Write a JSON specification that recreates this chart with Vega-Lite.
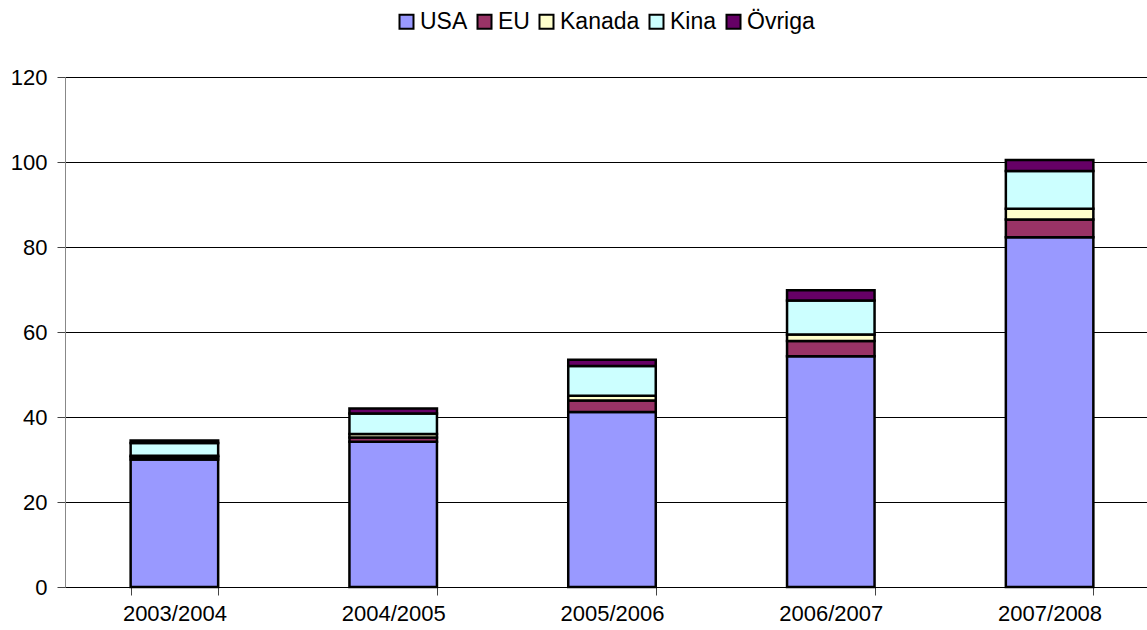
{
  "$schema": "https://vega.github.io/schema/vega-lite/v6.json",
  "autosize": "none",
  "width": 1094,
  "height": 510,
  "padding": {"left": 65, "top": 77, "right": 0, "bottom": 43},
  "background": "white",
  "config": {
    "font": "Liberation Sans",
    "view": {"stroke": null}
  },
  "data": {
    "values": [
      {"ar": "2003/2004", "land": "USA", "ord": 1, "v": 30.0},
      {"ar": "2003/2004", "land": "EU", "ord": 2, "v": 0.6},
      {"ar": "2003/2004", "land": "Kanada", "ord": 3, "v": 0.3},
      {"ar": "2003/2004", "land": "Kina", "ord": 4, "v": 3.0},
      {"ar": "2003/2004", "land": "Övriga", "ord": 5, "v": 0.6},
      {"ar": "2004/2005", "land": "USA", "ord": 1, "v": 34.2},
      {"ar": "2004/2005", "land": "EU", "ord": 2, "v": 1.0},
      {"ar": "2004/2005", "land": "Kanada", "ord": 3, "v": 0.8},
      {"ar": "2004/2005", "land": "Kina", "ord": 4, "v": 4.8},
      {"ar": "2004/2005", "land": "Övriga", "ord": 5, "v": 1.2},
      {"ar": "2005/2006", "land": "USA", "ord": 1, "v": 41.2},
      {"ar": "2005/2006", "land": "EU", "ord": 2, "v": 2.7},
      {"ar": "2005/2006", "land": "Kanada", "ord": 3, "v": 1.1},
      {"ar": "2005/2006", "land": "Kina", "ord": 4, "v": 7.0},
      {"ar": "2005/2006", "land": "Övriga", "ord": 5, "v": 1.5},
      {"ar": "2006/2007", "land": "USA", "ord": 1, "v": 54.3},
      {"ar": "2006/2007", "land": "EU", "ord": 2, "v": 3.6},
      {"ar": "2006/2007", "land": "Kanada", "ord": 3, "v": 1.5},
      {"ar": "2006/2007", "land": "Kina", "ord": 4, "v": 8.0},
      {"ar": "2006/2007", "land": "Övriga", "ord": 5, "v": 2.4},
      {"ar": "2007/2008", "land": "USA", "ord": 1, "v": 82.3},
      {"ar": "2007/2008", "land": "EU", "ord": 2, "v": 4.2},
      {"ar": "2007/2008", "land": "Kanada", "ord": 3, "v": 2.5},
      {"ar": "2007/2008", "land": "Kina", "ord": 4, "v": 8.9},
      {"ar": "2007/2008", "land": "Övriga", "ord": 5, "v": 2.6}
    ]
  },
  "mark": {"type": "bar", "stroke": "black", "strokeWidth": 2.5},
  "encoding": {
    "x": {
      "field": "ar",
      "type": "nominal",
      "title": null,
      "scale": {"paddingInner": 0.6, "paddingOuter": 0.3},
      "axis": {
        "labelAngle": 0,
        "labelFontSize": 22,
        "labelColor": "black",
        "labelPadding": 8,
        "domainColor": "black",
        "domainWidth": 1,
        "tickColor": "#444",
        "tickSize": 8,
        "tickBand": "extent",
        "grid": false
      }
    },
    "y": {
      "field": "v",
      "type": "quantitative",
      "stack": "zero",
      "title": null,
      "scale": {"domain": [0, 120], "nice": false},
      "axis": {
        "values": [0, 20, 40, 60, 80, 100, 120],
        "labelFontSize": 22,
        "labelColor": "black",
        "labelPadding": 10,
        "domainColor": "#888",
        "domainWidth": 1,
        "tickColor": "#444",
        "tickSize": 8,
        "grid": true,
        "gridColor": "black",
        "gridOpacity": 1,
        "gridWidth": 1
      }
    },
    "color": {
      "field": "land",
      "type": "nominal",
      "sort": ["USA", "EU", "Kanada", "Kina", "Övriga"],
      "scale": {
        "domain": ["USA", "EU", "Kanada", "Kina", "Övriga"],
        "range": ["#9999FF", "#993366", "#FFFFCC", "#CCFFFF", "#660066"]
      },
      "legend": {
        "title": null,
        "orient": "none",
        "legendX": 330,
        "legendY": -67,
        "direction": "horizontal",
        "labelFontSize": 23,
        "labelColor": "black",
        "symbolType": "square",
        "symbolSize": 196,
        "symbolStrokeColor": "black",
        "symbolStrokeWidth": 2,
        "symbolOpacity": 1,
        "columnPadding": 5,
        "labelOffset": 2
      }
    },
    "order": {"field": "ord", "type": "quantitative"}
  }
}
